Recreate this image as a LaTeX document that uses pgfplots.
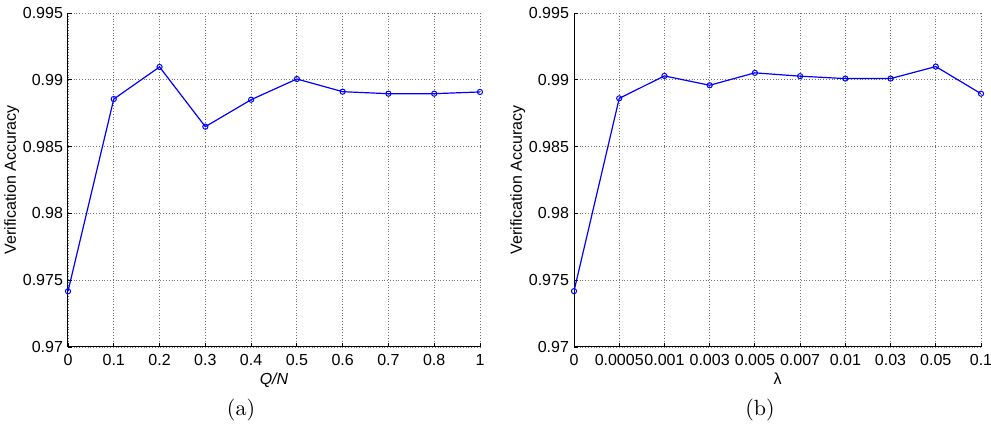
\documentclass[border=0pt]{standalone}
\usepackage{pgfplots}
\pgfplotsset{compat=1.18}
\usepackage{fontspec}
\setmainfont{Latin Modern Roman}
\newfontfamily\hv{Liberation Sans}
\begin{document}
\begin{tikzpicture}[x=1pt,y=1pt]
\pgfplotsset{
  myax/.style={
    scale only axis, width=206pt, height=167pt,
    axis x line=bottom, axis y line=left, axis line style={-, black, line width=0.5pt},
    ymin=0.97, ymax=0.995,
    ytick={0.97,0.975,0.98,0.985,0.99,0.995},
    yticklabels={0.97,0.975,0.98,0.985,0.99,0.995},
    grid=major, grid style={densely dotted, black!55, line width=0.4pt},
    tick align=inside, major tick length=2pt,
    tick style={black, line width=0.4pt},
    tick label style={font=\hv\fontsize{8}{9}\selectfont},
    /pgf/number format/assume math mode=true,
    label style={font=\hv\fontsize{8}{9}\selectfont},
    ylabel={Verification Accuracy},
    ylabel style={yshift=-5pt},
    xlabel style={yshift=3pt},
    yticklabel style={xshift=1pt},
  },
  myplot/.style={blue, line width=0.6pt, mark=o, mark size=1.3pt, mark options={solid, fill=none, line width=0.5pt}},
}
\path[use as bounding box] (0,0) rectangle (495.5,216);
\begin{axis}[myax, at={(34pt,42.5pt)}, anchor=south west,
  xmin=0, xmax=0.9,
  xtick={0,0.1,0.2,0.3,0.4,0.5,0.6,0.7,0.8,0.9},
  xticklabels={0,0.1,0.2,0.3,0.4,0.5,0.6,0.7,0.8,1},
  xlabel={\itshape Q/N}]
\addplot[myplot] coordinates {(0,0.97417) (0.1,0.98856) (0.2,0.99096) (0.3,0.98649) (0.4,0.98851) (0.5,0.99006) (0.6,0.98911) (0.7,0.98896) (0.8,0.98896) (0.9,0.98909)};
\end{axis}
\begin{axis}[myax, at={(287pt,42.5pt)}, anchor=south west,
  xmin=0, xmax=9, xtick={0,...,9},
  xticklabels={0,0.0005,0.001,0.003,0.005,0.007,0.01,0.03,0.05,0.1},
  width=203.5pt,
  xlabel={λ}]
\addplot[myplot] coordinates {(0,0.97418) (1,0.98861) (2,0.99029) (3,0.98959) (4,0.99052) (5,0.99027) (6,0.99009) (7,0.99009) (8,0.99099) (9,0.98896)};
\end{axis}
\node[font=\fontsize{11}{12}\selectfont] at (120.5,11) {(a)};
\node[font=\fontsize{11}{12}\selectfont] at (380,11) {(b)};
\end{tikzpicture}
\end{document}
